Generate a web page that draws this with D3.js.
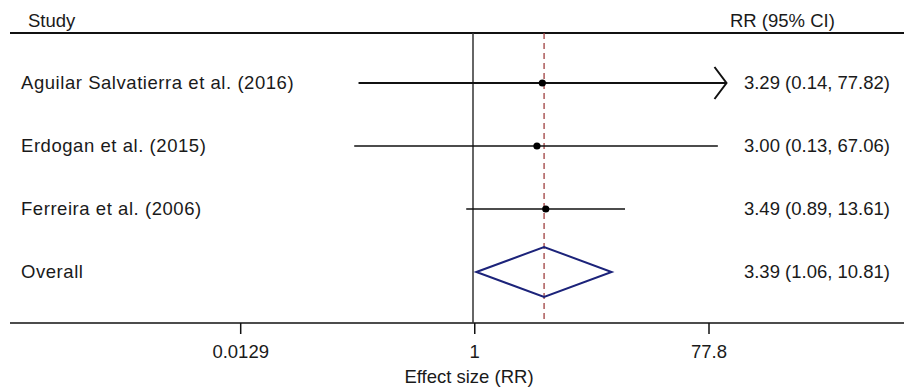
<!DOCTYPE html>
<html lang="en">

<head>
    <meta charset="UTF-8">
    <title>Forest plot</title>
    <script src="https://cdn.jsdelivr.net/npm/d3@7"></script>
    <style>
        body {
            margin: 0;
            background: #ffffff;
        }

        text {
            font-family: 'Liberation Sans', sans-serif;
            font-size: 18.5px;
            fill: #1a1a1a;
        }

        .label {
            letter-spacing: 0.55px;
        }
    </style>
</head>

<body>
    <div id="chart"></div>
    <script>
        // data
        const studies = ["Aguilar Salvatierra et al. (2016)", "Erdogan et al. (2015)", "Ferreira et al. (2006)"]
        const rr = [3.29, 3.00, 3.49]
        const lower = [0.14, 0.13, 0.89]
        const upper = [77.82, 67.06, 13.61]
        const overallLabel = "Overall"
        const overallRR = 3.39
        const overallLower = 1.06
        const overallUpper = 10.81
        const tickValues = [0.0129, 1, 77.8]
        const tickLabels = ["0.0129", "1", "77.8"]
        const axisMax = 77.8

        const width = 904
        const height = 389
        const topRule = 33
        const axisY = 323
        const fontSize = "18.5px"

        const fmt = d3.format(".2f")
        const ciText = (r, l, u) => `${fmt(r)} (${fmt(l)}, ${fmt(u)})`

        // scale for the marks, and the one the tick labels sit on in the reference
        let x = d3.scaleLog()
            .domain([1 / axisMax, axisMax])
            .range([219.5, 726.5])
        let xAxisScale = d3.scaleLog()
            .domain([1 / axisMax, axisMax])
            .range([240, 708.5])

        const rows = studies.concat([overallLabel])
        let y = d3.scalePoint()
            .domain(rows)
            .range([83, 272])

        let svg = d3.select("#chart")
            .append("svg")
            .attr("width", width)
            .attr("height", height)

        // headers
        svg.append("text").attr("x", 28).attr("y", 27).text("Study")
        svg.append("text").attr("x", 730).attr("y", 27).text("RR (95% CI)")

        // top rule and bottom axis line
        svg.append("line")
            .attr("x1", 10).attr("x2", width)
            .attr("y1", topRule).attr("y2", topRule)
            .attr("stroke", "#111").attr("stroke-width", 2)
        svg.append("line")
            .attr("x1", 10).attr("x2", width)
            .attr("y1", axisY).attr("y2", axisY)
            .attr("stroke", "#111").attr("stroke-width", 1.6)

        // null line at 1
        svg.append("line")
            .attr("x1", x(1)).attr("x2", x(1))
            .attr("y1", topRule).attr("y2", axisY)
            .attr("stroke", "#333").attr("stroke-width", 1.5)

        // overall effect dashed line
        svg.append("line")
            .attr("x1", x(overallRR)).attr("x2", x(overallRR))
            .attr("y1", topRule).attr("y2", axisY)
            .attr("stroke", "#a0403f").attr("stroke-width", 1.3)
            .attr("stroke-dasharray", "6,4")

        // study rows
        studies.forEach((s, i) => {
            const yy = y(s)
            const clipped = upper[i] > axisMax
            const hi = Math.min(upper[i], axisMax)
            svg.append("text")
                .attr("class", "label")
                .attr("x", 21).attr("y", yy + 6)
                .text(s)
            svg.append("line")
                .attr("x1", x(lower[i])).attr("x2", x(hi))
                .attr("y1", yy).attr("y2", yy)
                .attr("stroke", "#111")
                .attr("stroke-width", clipped ? 2.2 : 1.5)
            if (clipped) {
                svg.append("path")
                    .attr("d", `M${x(hi) - 12},${yy - 16} L${x(hi)},${yy} L${x(hi) - 12},${yy + 16}`)
                    .attr("fill", "none")
                    .attr("stroke", "#111")
                    .attr("stroke-width", 2)
            }
            svg.append("circle")
                .attr("cx", x(rr[i])).attr("cy", yy)
                .attr("r", 3.6)
                .attr("fill", "#000")
            svg.append("text")
                .attr("x", 890).attr("y", yy + 6)
                .attr("text-anchor", "end")
                .text(ciText(rr[i], lower[i], upper[i]))
        })

        // overall diamond
        const oy = y(overallLabel)
        svg.append("text")
            .attr("class", "label")
            .attr("x", 21).attr("y", oy + 6)
            .text(overallLabel)
        svg.append("path")
            .attr("d", `M${x(overallLower)},${oy} L${x(overallRR)},${oy - 25} L${x(overallUpper)},${oy} L${x(overallRR)},${oy + 25} Z`)
            .attr("fill", "none")
            .attr("stroke", "#1c237a")
            .attr("stroke-width", 2)
        svg.append("text")
            .attr("x", 890).attr("y", oy + 6)
            .attr("text-anchor", "end")
            .text(ciText(overallRR, overallLower, overallUpper))

        // axis
        let axis = svg.append("g")
            .attr("transform", `translate(0,${axisY})`)
            .call(d3.axisBottom(xAxisScale)
                .tickValues(tickValues)
                .tickFormat((d, i) => tickLabels[i])
                .tickSize(11)
                .tickPadding(11))
        axis.select(".domain").remove()
        axis.selectAll(".tick line").attr("stroke", "#111").attr("stroke-width", 1.5)
        axis.selectAll(".tick text")
            .style("font-family", "'Liberation Sans', sans-serif")
            .style("font-size", fontSize)
            .attr("fill", "#1a1a1a")

        svg.append("text")
            .attr("x", 469).attr("y", 383)
            .attr("text-anchor", "middle")
            .text("Effect size (RR)")
    </script>
</body>

</html>
